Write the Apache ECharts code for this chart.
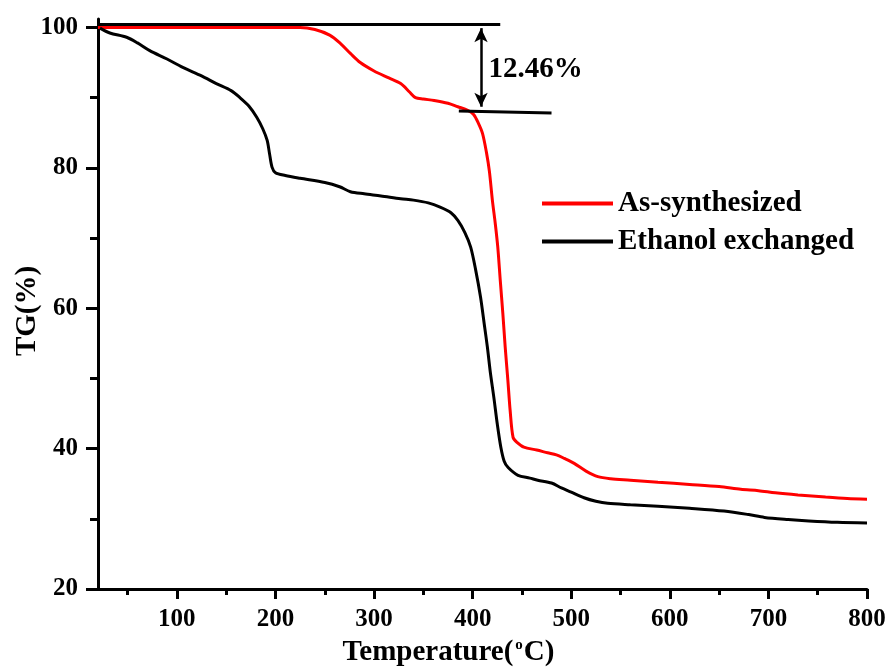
<!DOCTYPE html>
<html>
<head>
<meta charset="utf-8">
<script src="https://cdn.jsdelivr.net/npm/echarts@6/dist/echarts.min.js"></script>
<style>
  html, body { margin: 0; padding: 0; background: #fff; }
  #main { width: 888px; height: 670px; }
</style>
</head>
<body>
<div id="main"></div>
<script>
// 数据
var asT  = [20, 60, 100, 150, 200, 225, 240, 255, 266, 276, 286, 300, 315, 327, 336, 342, 350, 361, 375, 385, 395, 401, 406, 410, 414, 417, 420, 423, 425.5, 428, 430.6, 433, 435.7, 438, 441, 445, 452, 465, 476, 485, 493, 503, 515, 527, 540, 560, 588, 620, 650, 672, 690, 707, 730, 758, 780, 800];
var asTG = [100, 100, 100, 100, 100, 100, 99.7, 98.9, 97.7, 96.3, 95.0, 93.8, 92.8, 92.0, 90.8, 90.0, 89.8, 89.6, 89.2, 88.7, 88.2, 87.6, 86.3, 84.9, 82.2, 79.5, 75.4, 72.0, 68.7, 64.0, 59.3, 54.5, 49.8, 45.5, 41.6, 40.9, 40.2, 39.8, 39.4, 39.1, 38.6, 37.9, 36.8, 36.0, 35.7, 35.5, 35.2, 34.9, 34.6, 34.2, 34.0, 33.7, 33.4, 33.1, 32.9, 32.8];

var ethT  = [22, 32, 49, 60, 72.5, 90, 106, 125, 140, 155, 164, 173, 181, 187, 191.6, 194, 196.5, 200, 210, 225, 250, 265, 276, 290, 307, 327, 340, 355, 367, 378, 385, 392, 398, 403, 408, 412, 415, 418, 421.5, 425, 428.6, 432, 436, 446, 458, 466, 480, 490, 500, 513, 525, 537, 560, 588, 620, 655, 680, 696, 720, 741, 770, 800];
var ethTG = [99.9, 99.2, 98.6, 97.8, 96.7, 95.5, 94.3, 93.1, 92.0, 91.0, 90.0, 88.8, 87.2, 85.6, 83.9, 82.0, 80.1, 79.3, 78.9, 78.5, 77.9, 77.3, 76.6, 76.3, 76.0, 75.6, 75.4, 75.0, 74.4, 73.6, 72.5, 70.8, 68.7, 65.5, 61.6, 57.5, 54.4, 50.8, 47.3, 43.5, 40.2, 38.2, 37.3, 36.2, 35.8, 35.5, 35.1, 34.4, 33.8, 33.0, 32.5, 32.2, 32.0, 31.8, 31.5, 31.1, 30.6, 30.2, 29.9, 29.7, 29.5, 29.4];

var seriesNames = ['As-synthesized', 'Ethanol exchanged'];
var xTicks = [100, 200, 300, 400, 500, 600, 700, 800];
var xMinorTicks = [50, 150, 250, 350, 450, 550, 650, 750];
var yTicks = [20, 40, 60, 80, 100];
var yMinorTicks = [30, 50, 70, 90];

// 标注 (12.46%)
var bracketTop = [[20, 100.4], [428, 100.4]];
var bracketBottom = [[386, 88.1], [480, 87.8]];
var arrowX = 408.5;
var arrowTop = 99.9;
var arrowBottom = 88.7;
var lossLabel = '12.46%';
var lossLabelPos = [416, 94.0];

function zip(xs, ys) {
  var out = [];
  for (var i = 0; i < xs.length; i++) out.push([xs[i], ys[i]]);
  return out;
}

var FONT = "'Liberation Serif', 'Times New Roman', serif";
var myChart = echarts.init(document.getElementById('main'));

var option = {
  backgroundColor: '#fff',
  animation: false,
  grid: { left: 98, right: 21, top: 19, bottom: 81, containLabel: false, outerBoundsMode: 'none' },
  legend: {
    data: seriesNames,
    left: 537,
    top: 184,
    orient: 'vertical',
    icon: 'rect',
    itemWidth: 71,
    itemHeight: 4,
    itemGap: 9,
    textStyle: { fontFamily: FONT, fontWeight: 'bold', fontSize: 29, color: '#000', lineHeight: 29 }
  },
  xAxis: [{
    type: 'value',
    min: 20,
    max: 800,
    position: 'bottom',
    name: '{a|Temperature(}{s|o}{a|C)}',
    nameLocation: 'middle',
    nameGap: 49,
    nameMoveOverlap: false,
    nameTextStyle: {
      padding: [0, 68, 0, 0],
      rich: {
        a: { fontFamily: FONT, fontWeight: 'bold', fontSize: 29, color: '#000' },
        s: { fontFamily: FONT, fontWeight: 'bold', fontSize: 15, color: '#000', verticalAlign: 'top', padding: [0, 1, 14, 2] }
      }
    },
    axisLine: { onZero: false, lineStyle: { color: '#000', width: 3 } },
    axisTick: { inside: false, length: 10, lineStyle: { width: 3, color: '#000' }, customValues: xTicks },
    axisLabel: { customValues: xTicks, margin: 18, fontFamily: FONT, fontWeight: 'bold', fontSize: 25, color: '#000' },
    splitLine: { show: false }
  }, {
    type: 'value',
    min: 20,
    max: 800,
    position: 'bottom',
    axisLine: { show: false },
    axisTick: { length: 6, lineStyle: { width: 3, color: '#000' }, customValues: xMinorTicks },
    axisLabel: { show: false },
    splitLine: { show: false }
  }],
  yAxis: [{
    type: 'value',
    min: 20,
    max: 101.2,
    position: 'left',
    name: 'TG(%)',
    nameLocation: 'middle',
    nameGap: 56,
    nameMoveOverlap: false,
    nameTextStyle: { fontFamily: FONT, fontWeight: 'bold', fontSize: 29, color: '#000', padding: [0, 14, 0, 0] },
    axisLine: { onZero: false, lineStyle: { color: '#000', width: 3 } },
    axisTick: { length: 12, lineStyle: { width: 3, color: '#000' }, customValues: yTicks },
    axisLabel: { customValues: yTicks, margin: 20, fontFamily: FONT, fontWeight: 'bold', fontSize: 25, color: '#000' },
    splitLine: { show: false }
  }, {
    type: 'value',
    min: 20,
    max: 101.2,
    position: 'left',
    axisLine: { show: false },
    axisTick: { length: 8, lineStyle: { width: 3, color: '#000' }, customValues: yMinorTicks },
    axisLabel: { show: false },
    splitLine: { show: false }
  }],
  series: [{
    name: seriesNames[0],
    type: 'line',
    data: zip(asT, asTG),
    showSymbol: false,
    smooth: 0.3,
    color: '#ff0000',
    lineStyle: { color: '#ff0000', width: 3 },
    z: 3
  }, {
    name: seriesNames[1],
    type: 'line',
    data: zip(ethT, ethTG),
    showSymbol: false,
    smooth: 0.3,
    color: '#000',
    lineStyle: { color: '#000', width: 3 },
    z: 3
  }, {
    name: 'bracketTop',
    type: 'line',
    data: bracketTop,
    showSymbol: false,
    lineStyle: { color: '#000', width: 3 },
    z: 4,
    markLine: {
      silent: true,
      symbol: ['arrow', 'arrow'],
      symbolSize: [10, 14],
      lineStyle: { color: '#000', width: 2.5, type: 'solid' },
      label: { show: false },
      data: [[{ coord: [arrowX, arrowTop] }, { coord: [arrowX, arrowBottom] }]]
    }
  }, {
    name: 'bracketBottom',
    type: 'line',
    data: bracketBottom,
    showSymbol: false,
    lineStyle: { color: '#000', width: 3 },
    z: 4
  }, {
    name: 'lossLabel',
    type: 'scatter',
    data: [lossLabelPos],
    symbolSize: 0,
    label: {
      show: true,
      position: 'right',
      distance: 0,
      formatter: lossLabel,
      fontFamily: FONT,
      fontWeight: 'bold',
      fontSize: 29,
      color: '#000',
      opacity: 1
    },
    itemStyle: { opacity: 1 },
    emphasis: { disabled: true }
  }]
};

myChart.setOption(option);
</script>
</body>
</html>
